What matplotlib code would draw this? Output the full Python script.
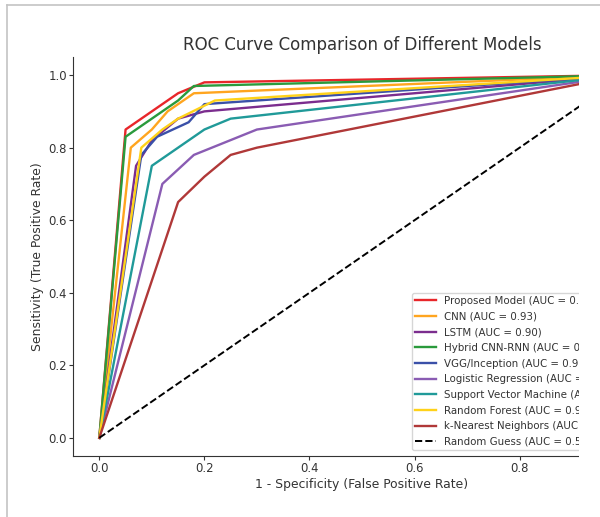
import numpy as np
import matplotlib
matplotlib.use("Agg")
import matplotlib.pyplot as plt
from matplotlib.patches import Rectangle
from matplotlib.lines import Line2D

# ROC points, one list pair per model
names = ["Proposed Model", "CNN", "LSTM", "Hybrid CNN-RNN", "VGG/Inception",
         "Logistic Regression", "Support Vector Machine", "Random Forest",
         "k-Nearest Neighbors"]
aucs = [0.96, 0.93, 0.90, 0.95, 0.92, 0.85, 0.88, 0.91, 0.82]

fpr_proposed = [0, 0.05, 0.10, 0.15, 0.20, 1.0]
tpr_proposed = [0, 0.85, 0.90, 0.95, 0.98, 1.0]
fpr_cnn = [0, 0.06, 0.10, 0.13, 0.18, 1.0]
tpr_cnn = [0, 0.80, 0.85, 0.90, 0.95, 1.0]
fpr_lstm = [0, 0.07, 0.10, 0.15, 0.20, 1.0]
tpr_lstm = [0, 0.75, 0.82, 0.88, 0.90, 1.0]
fpr_hybrid = [0, 0.05, 0.10, 0.15, 0.18, 1.0]
tpr_hybrid = [0, 0.83, 0.88, 0.93, 0.97, 1.0]
fpr_vgg = [0, 0.08, 0.11, 0.17, 0.20, 1.0]
tpr_vgg = [0, 0.78, 0.83, 0.87, 0.92, 1.0]
fpr_lr = [0, 0.12, 0.18, 0.30, 1.0]
tpr_lr = [0, 0.70, 0.78, 0.85, 1.0]
fpr_svm = [0, 0.10, 0.15, 0.20, 0.25, 1.0]
tpr_svm = [0, 0.75, 0.80, 0.85, 0.88, 1.0]
fpr_rf = [0, 0.08, 0.12, 0.15, 0.22, 1.0]
tpr_rf = [0, 0.80, 0.85, 0.88, 0.93, 1.0]
fpr_knn = [0, 0.15, 0.20, 0.25, 0.30, 1.0]
tpr_knn = [0, 0.65, 0.72, 0.78, 0.80, 1.0]
fpr_random = [0, 1]
tpr_random = [0, 1]

fprs = [fpr_proposed, fpr_cnn, fpr_lstm, fpr_hybrid, fpr_vgg, fpr_lr, fpr_svm, fpr_rf, fpr_knn]
tprs = [tpr_proposed, tpr_cnn, tpr_lstm, tpr_hybrid, tpr_vgg, tpr_lr, tpr_svm, tpr_rf, tpr_knn]
colors = ["#e8262a", "#ffa51f", "#7b2d8e", "#2a9a3c", "#3a50a8",
          "#8a5cb3", "#209a99", "#ffd219", "#b03838"]

txt = "#333333"

def main():
    fig = plt.figure(figsize=(6, 5.17), dpi=100)
    # axes runs past the right edge, the screenshot was cut there
    ax = fig.add_axes([0.1217, 0.1180, 0.9633, 0.7718])

    for i in range(len(names)):
        ax.plot(fprs[i], tprs[i], color=colors[i], lw=1.7,
                label=names[i] + " (AUC = %.2f)" % aucs[i])
    ax.plot(fpr_random, tpr_random, "--", color="black", lw=1.4,
            label="Random Guess (AUC = 0.50)")

    ax.set_xlim(-0.05, 1.05)
    ax.set_ylim(-0.05, 1.05)
    ax.set_xticks(np.arange(0, 1.01, 0.2))
    ax.set_yticks(np.arange(0, 1.01, 0.2))
    for s in ["top", "right"]:
        ax.spines[s].set_visible(False)
    for s in ["left", "bottom"]:
        ax.spines[s].set_color(txt)
    ax.tick_params(colors=txt, labelsize=8.4, length=2.8, pad=1.5, direction="out")

    ax.set_title("ROC Curve Comparison of Different Models", fontsize=12, color=txt, pad=5)
    ax.set_xlabel("1 - Specificity (False Positive Rate)", fontsize=8.9, color=txt, labelpad=2)
    ax.set_ylabel("Sensitivity (True Positive Rate)", fontsize=8.9, color=txt, labelpad=3)

    leg = ax.legend(loc="lower left", bbox_to_anchor=(0.5865, 0.015), borderaxespad=0,
                    fontsize=7.4, labelspacing=0.55, handlelength=2.0, borderpad=0.3)
    for t in leg.get_texts():
        t.set_color(txt)

    # white strip where the screenshot ends, then the grey frame lines
    fig.patches.append(Rectangle((579 / 600, 0), 1, 1, transform=fig.transFigure,
                                 facecolor="white", edgecolor="none", zorder=10))
    fig.lines.append(Line2D([7 / 600, 1], [1 - 5 / 517, 1 - 5 / 517], transform=fig.transFigure,
                            color="#c4c4c4", lw=1.2, zorder=11))
    fig.lines.append(Line2D([7 / 600, 7 / 600], [0, 1 - 5 / 517], transform=fig.transFigure,
                            color="#c4c4c4", lw=1.2, zorder=11))

    fig.savefig("out.png", dpi=100)

main()
